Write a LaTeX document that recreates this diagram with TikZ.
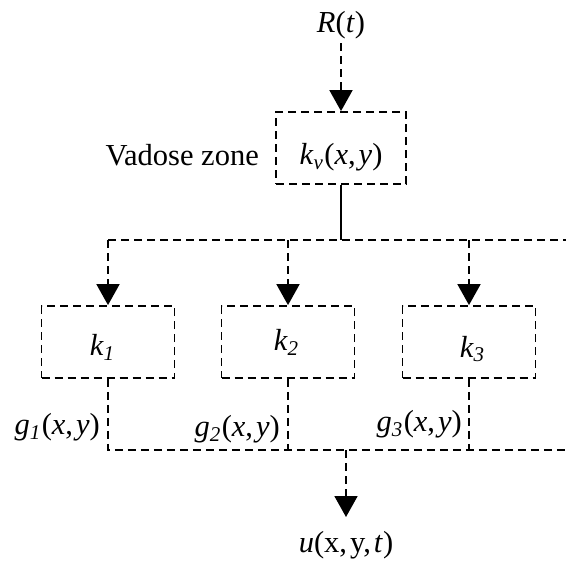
\documentclass[tikz,border=0pt]{standalone}
\usepackage{fontspec}
\setmainfont{Liberation Serif}
\usetikzlibrary{arrows.meta}
\newcommand{\sbi}[1]{\raisebox{-0.35ex}{\fontsize{21}{21}\selectfont\textit{#1}}\hspace{1.5pt}}
\newcommand{\cm}{,\hspace{3pt}}
\begin{document}
\begin{tikzpicture}[x=1pt,y=-1pt,
  dl/.style={line width=1.8pt,dash pattern=on 8pt off 5pt},
  sl/.style={line width=1.8pt},
  arr/.style={dl,-{Triangle[length=21pt,width=23pt]}},
  box/.style={draw,dl,minimum width=133pt,minimum height=72pt,inner sep=0pt},
  lbl/.style={font=\fontsize{30.5}{32}\selectfont,inner sep=0pt}]
\useasboundingbox (0,0) rectangle (566,563);
\node[lbl] (R) at (341,25) {\textit{R}(\textit{t})};
\node[box,minimum width=130pt] (kv) at (341,148) {};
\node[lbl] (kvt) at (341,157) {\textit{k}\sbi{v}(\textit{x}\cm\textit{y})};
\node[lbl,anchor=east] (vz) at (259,155) {Vadose zone};
\draw[arr] (R.south) ++(0,4) coordinate (Rs) -- (kv.north);
\coordinate (b1) at (341,240);
\coordinate (b1l) at (108,240);
\coordinate (b1r) at (566,240);
\draw[sl] (kv.south) -- (b1);
\draw[dl] (b1l) -- (b1r);
\node[box] (k1) at (108,342) {};
\node[box] (k2) at (288,342) {};
\node[box] (k3) at (469,342) {};
\node[lbl] (k1t) at (102,347) {\textit{k}\sbi{1}};
\node[lbl] (k2t) at (286,342) {\textit{k}\sbi{2}};
\node[lbl] (k3t) at (472,349) {\textit{k}\sbi{3}};
\draw[arr] (b1l) -- (k1.north);
\draw[arr] (k2.north |- b1l) -- (k2.north);
\draw[arr] (k3.north |- b1l) -- (k3.north);
\coordinate (b2l) at (108,450);
\coordinate (b2r) at (566,450);
\coordinate (b2m) at (346,450);
\draw[dl] (k1.south) -- (b2l) -- (b2r);
\draw[dl] (k2.south) -- (k2.south |- b2l);
\draw[dl] (k3.south) -- (k3.south |- b2l);
\node[lbl,anchor=east] (g1) at (100,427) {\textit{g}\sbi{1}(\textit{x}\cm\textit{y})};
\node[lbl,anchor=east] (g2) at (280,429) {\textit{g}\sbi{2}(\textit{x}\cm\textit{y})};
\node[lbl,anchor=east] (g3) at (462,424) {\textit{g}\sbi{3}(\textit{x}\cm\textit{y})};
\node[lbl] (u) at (346,545) {\textit{u}(x\cm y\cm\textit{t})};
\draw[arr] (b2m) -- (u.north |- 0,517) coordinate (ut);
\end{tikzpicture}
\end{document}
